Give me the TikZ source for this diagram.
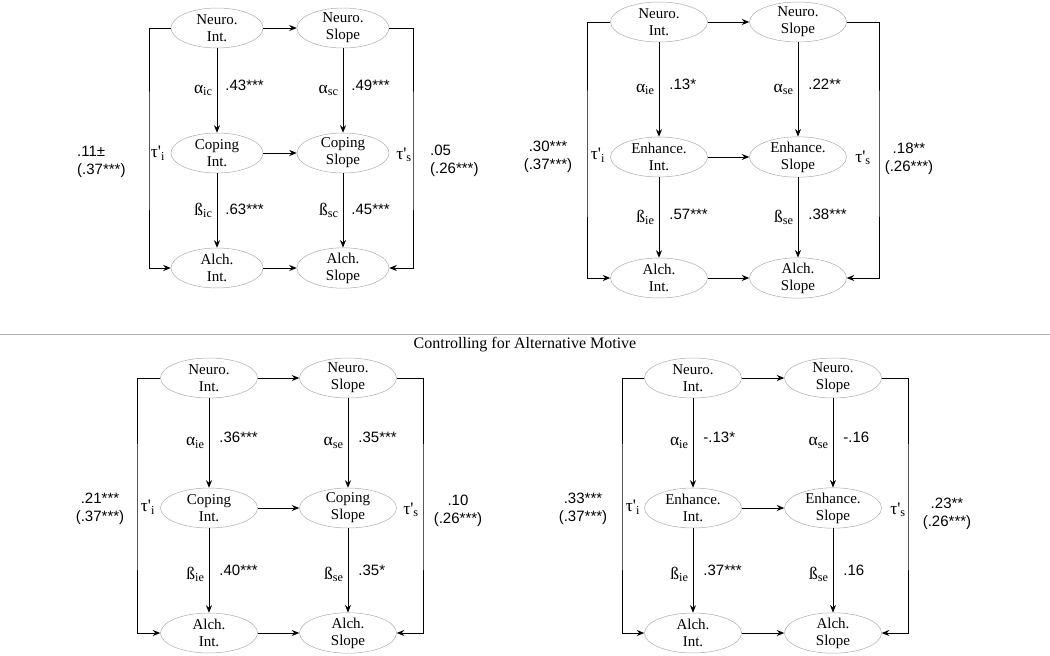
\documentclass[tikz,border=0pt]{standalone}
\usepackage{fontspec}
\setmainfont{Liberation Serif}
\newfontfamily\sansnum{Liberation Sans}
\usepackage{tikz}
\usetikzlibrary{positioning}
\usetikzlibrary{arrows.meta}
\usetikzlibrary{shapes.geometric}

\begin{document}
\begin{tikzpicture}[x=1pt,y=-1pt]
        \tikzstyle{latent}=[ellipse,draw=gray!65,line width=0.5pt,align=center,
            minimum width=97pt,minimum height=40pt,inner xsep=0pt,inner ysep=-1pt,
            font=\fontsize{15}{17}\selectfont]
        \tikzstyle{arr}=[-{Stealth[length=7.5pt,width=6pt]},line width=0.9pt]
        \tikzstyle{coef}=[font=\sansnum\fontsize{15}{18}\selectfont,align=center,inner sep=2pt]
        \tikzstyle{sym}=[font=\fontsize{17.5}{19}\selectfont,inner sep=2pt]
        \useasboundingbox (0,0) rectangle (1050,656);

        \draw[gray!60,line width=0.8pt] (0,334) -- (1050,334);
        \node[font=\fontsize{16}{18}\selectfont] (title) at (525,345) {Controlling for Alternative Motive};

            \node[latent,minimum width=92pt] (ani) at (217,28) {Neuro.\\Int.};
            \node[latent,minimum width=92pt] (ans) at (343,28) {Neuro.\\Slope};
            \node[latent,minimum width=92pt] (aci) at (217,153) {Coping\\Int.};
            \node[latent,minimum width=92pt] (acs) at (343,153) {Coping\\Slope};
            \node[latent,minimum width=92pt] (aai) at (217,268) {Alch.\\Int.};
            \node[latent,minimum width=92pt] (aas) at (343,268) {Alch.\\Slope};
            \coordinate (aL) at (149,153);
            \coordinate (aR) at (413,153);

            \draw[arr] (ani) -- (ans);
            \draw[arr] (aci) -- (acs);
            \draw[arr] (aai) -- (aas);
            \draw[arr] (ani) -- (aci)
            node[sym,midway,left=2pt] {α\textsubscript{ic}}
            node[coef,midway,right=6pt,yshift=5pt] {.43***};
            \draw[arr] (ans) -- (acs)
            node[sym,midway,left=2pt] {α\textsubscript{sc}}
            node[coef,midway,right=6pt,yshift=5pt] {.49***};
            \draw[arr] (aci) -- (aai)
            node[sym,midway,left=2pt] {ß\textsubscript{ic}}
            node[coef,midway,right=6pt,yshift=1pt] {.63***};
            \draw[arr] (acs) -- (aas)
            node[sym,midway,left=2pt] {ß\textsubscript{sc}}
            node[coef,midway,right=6pt,yshift=1pt] {.45***};
            \draw[arr] (ani.west) -| (aL) |- (aai.west);
            \draw[arr] (ans.east) -| (aR) |- (aas.east);
            \node[sym] (ati) at (158,153) {τ\textquotesingle\textsubscript{i}};
            \node[sym] (ats) at (404,155) {τ\textquotesingle\textsubscript{s}};
            \node[coef,align=left,anchor=west] (aiv) at (75,162) {.11±\\(.37***)};
            \node[coef,align=left,anchor=west] (asv) at (428,161) {.05\\(.26***)};

            \node[latent] (bni) at (659,22) {Neuro.\\Int.};
            \node[latent] (bns) at (798,22) {Neuro.\\Slope};
            \node[latent] (bei) at (659,157) {Enhance.\\Int.};
            \node[latent] (bes) at (798,157) {Enhance.\\Slope};
            \node[latent] (bai) at (659,278) {Alch.\\Int.};
            \node[latent] (bas) at (798,278) {Alch.\\Slope};
            \coordinate (bL) at (587,157);
            \coordinate (bR) at (879,157);

            \draw[arr] (bni) -- (bns);
            \draw[arr] (bei) -- (bes);
            \draw[arr] (bai) -- (bas);
            \draw[arr] (bni) -- (bei)
            node[sym,midway,left=2pt] {α\textsubscript{ie}}
            node[coef,midway,right=8pt,yshift=5pt] {.13*};
            \draw[arr] (bns) -- (bes)
            node[sym,midway,left=2pt] {α\textsubscript{se}}
            node[coef,midway,right=8pt,yshift=5pt] {.22**};
            \draw[arr] (bei) -- (bai)
            node[sym,midway,left=2pt] {ß\textsubscript{ie}}
            node[coef,midway,right=8pt,yshift=3pt] {.57***};
            \draw[arr] (bes) -- (bas)
            node[sym,midway,left=2pt] {ß\textsubscript{se}}
            node[coef,midway,right=8pt,yshift=3pt] {.38***};
            \draw[arr] (bni.west) -| (bL) |- (bai.west);
            \draw[arr] (bns.east) -| (bR) |- (bas.east);
            \node[sym] (bti) at (598,155) {τ\textquotesingle\textsubscript{i}};
            \node[sym] (bts) at (863,158) {τ\textquotesingle\textsubscript{s}};
            \node[coef] (biv) at (548,157) {.30***\\(.37***)};
            \node[coef] (bsv) at (909,159) {.18**\\(.26***)};

            \node[latent] (cni) at (209,378) {Neuro.\\Int.};
            \node[latent] (cns) at (348,378) {Neuro.\\Slope};
            \node[latent] (cci) at (209,508) {Coping\\Int.};
            \node[latent] (ccs) at (348,508) {Coping\\Slope};
            \node[latent] (cai) at (209,633) {Alch.\\Int.};
            \node[latent] (cas) at (348,633) {Alch.\\Slope};
            \coordinate (cL) at (137,508);
            \coordinate (cR) at (423,508);

            \draw[arr] (cni) -- (cns);
            \draw[arr] (cci) -- (ccs);
            \draw[arr] (cai) -- (cas);
            \draw[arr] (cni) -- (cci)
            node[sym,midway,left=2pt] {α\textsubscript{ie}}
            node[coef,midway,right=8pt,yshift=6pt] {.36***};
            \draw[arr] (cns) -- (ccs)
            node[sym,midway,left=2pt] {α\textsubscript{se}}
            node[coef,midway,right=8pt,yshift=6pt] {.35***};
            \draw[arr] (cci) -- (cai)
            node[sym,midway,left=2pt,yshift=-4pt] {ß\textsubscript{ie}}
            node[coef,midway,right=8pt] {.40***};
            \draw[arr] (ccs) -- (cas)
            node[sym,midway,left=2pt,yshift=-4pt] {ß\textsubscript{se}}
            node[coef,midway,right=8pt] {.35*};
            \draw[arr] (cni.west) -| (cL) |- (cai.west);
            \draw[arr] (cns.east) -| (cR) |- (cas.east);
            \node[sym] (cti) at (148,507) {τ\textquotesingle\textsubscript{i}};
            \node[sym] (cts) at (411,510) {τ\textquotesingle\textsubscript{s}};
            \node[coef] (civ) at (100,509) {.21***\\(.37***)};
            \node[coef] (csv) at (458,511) {.10\\(.26***)};

            \node[latent] (dni) at (693,378) {Neuro.\\Int.};
            \node[latent] (dns) at (833,378) {Neuro.\\Slope};
            \node[latent] (dei) at (693,508) {Enhance.\\Int.};
            \node[latent] (des) at (833,508) {Enhance.\\Slope};
            \node[latent] (dai) at (693,633) {Alch.\\Int.};
            \node[latent] (das) at (833,633) {Alch.\\Slope};
            \coordinate (dL) at (622,508);
            \coordinate (dR) at (908,508);

            \draw[arr] (dni) -- (dns);
            \draw[arr] (dei) -- (des);
            \draw[arr] (dai) -- (das);
            \draw[arr] (dni) -- (dei)
            node[sym,midway,left=2pt] {α\textsubscript{ie}}
            node[coef,midway,right=8pt,yshift=6pt] {-.13*};
            \draw[arr] (dns) -- (des)
            node[sym,midway,left=2pt] {α\textsubscript{se}}
            node[coef,midway,right=8pt,yshift=6pt] {-.16};
            \draw[arr] (dei) -- (dai)
            node[sym,midway,left=2pt,yshift=-4pt] {ß\textsubscript{ie}}
            node[coef,midway,right=8pt] {.37***};
            \draw[arr] (des) -- (das)
            node[sym,midway,left=2pt,yshift=-4pt] {ß\textsubscript{se}}
            node[coef,midway,right=8pt] {.16};
            \draw[arr] (dni.west) -| (dL) |- (dai.west);
            \draw[arr] (dns.east) -| (dR) |- (das.east);
            \node[sym] (dti) at (633,507) {τ\textquotesingle\textsubscript{i}};
            \node[sym] (dts) at (898,510) {τ\textquotesingle\textsubscript{s}};
            \node[coef] (div) at (583,509) {.33***\\(.37***)};
            \node[coef] (dsv) at (947,514) {.23**\\(.26***)};
\end{tikzpicture}
\end{document}
